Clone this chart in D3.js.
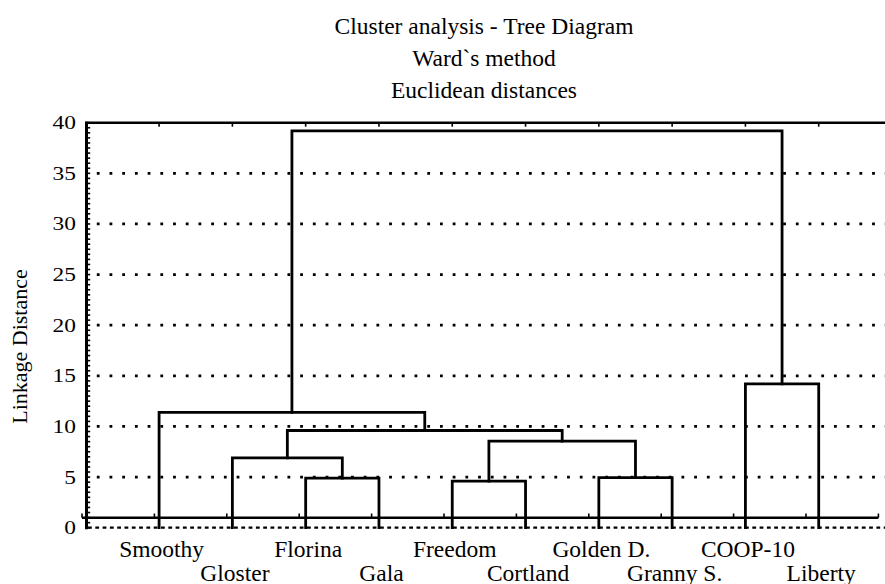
<!DOCTYPE html>
<html>
<head>
<meta charset="utf-8">
<script src="https://cdn.jsdelivr.net/npm/d3@7"></script>
<style>
  body { margin: 0; background: #fff; }
  svg { display: block; }
</style>
</head>
<body>
<svg id="chart" width="885" height="584"></svg>
<script>
// leaves in plotted order
const leaves = ["Smoothy", "Gloster", "Florina", "Gala", "Freedom", "Cortland", "Golden D.", "Granny S.", "COOP-10", "Liberty"];
// joins: ids < 10 are leaves, id 10 + k is the k-th join
const joinLeft = [4, 2, 6, 1, 10, 13, 0, 8, 16];
const joinRight = [5, 3, 7, 11, 12, 14, 15, 9, 17];
const joinHeight = [4.6, 4.9, 4.95, 6.9, 8.55, 9.6, 11.4, 14.2, 39.2];
const yTicks = [0, 5, 10, 15, 20, 25, 30, 35, 40];
const titleLines = ["Cluster analysis - Tree Diagram", "Ward`s method", "Euclidean distances"];

const serif = "'Liberation Serif', 'Times New Roman', Times, serif";

const svg = d3.select("#chart")
    .style("font-family", serif);

const x = d3.scaleLinear().domain([0, 11]).range([85.8, 892]);
// the bottom frame line sits a little off the leaf positions
const xb = d3.scaleLinear().domain([0, 11]).range([82, 878.4]);
const y = d3.scaleLinear().domain([0, 40]).range([527.7, 122.7]);

// titles
svg.selectAll("text.title")
    .data(titleLines)
    .join("text")
    .attr("class", "title")
    .attr("x", 484)
    .attr("y", (d, i) => 33.5 + i * 32)
    .attr("text-anchor", "middle")
    .style("font-size", "23.5px")
    .text(d => d);

// dotted grid
svg.selectAll("line.grid")
    .data(yTicks.filter(d => d > 0 && d < 40))
    .join("line")
    .attr("class", "grid")
    .attr("x1", 96.8).attr("x2", 885)
    .attr("y1", d => y(d)).attr("y2", d => y(d))
    .attr("stroke", "#000")
    .attr("stroke-width", 2.8)
    .attr("stroke-dasharray", "2.8,9.91");

// zero line, dashed
svg.append("line")
    .attr("x1", 88).attr("x2", 885)
    .attr("y1", y(0)).attr("y2", y(0))
    .attr("stroke", "#000")
    .attr("stroke-width", 2.2)
    .attr("stroke-dasharray", "3.8,3.5");

// top frame
svg.append("line")
    .attr("x1", 85).attr("x2", 885)
    .attr("y1", y(40)).attr("y2", y(40))
    .attr("stroke", "#000").attr("stroke-width", 2.6);

svg.selectAll("line.ttick")
    .data(d3.range(1, 11))
    .join("line")
    .attr("class", "ttick")
    .attr("x1", d => x(d)).attr("x2", d => x(d))
    .attr("y1", y(40)).attr("y2", y(40) + 4)
    .attr("stroke", "#000").attr("stroke-width", 1.6);

// bottom frame line
svg.append("line")
    .attr("x1", xb(0)).attr("x2", xb(11))
    .attr("y1", 517.7).attr("y2", 517.7)
    .attr("stroke", "#000").attr("stroke-width", 2.4);

svg.selectAll("line.btick")
    .data(d3.range(0, 12))
    .join("line")
    .attr("class", "btick")
    .attr("x1", d => xb(d)).attr("x2", d => xb(d))
    .attr("y1", 517.7).attr("y2", 513.5)
    .attr("stroke", "#000").attr("stroke-width", 1.6);

// left axis
svg.append("line")
    .attr("x1", 86.5).attr("x2", 86.5)
    .attr("y1", y(40) - 1).attr("y2", y(0) + 1.5)
    .attr("stroke", "#000").attr("stroke-width", 3);

svg.selectAll("line.ltick")
    .data(d3.range(0, 80.5).map(d => d / 2))
    .join("line")
    .attr("class", "ltick")
    .attr("x1", 86.5).attr("x2", 90.2)
    .attr("y1", d => y(d)).attr("y2", d => y(d))
    .attr("stroke", "#000").attr("stroke-width", 1.6);

svg.selectAll("text.ylab")
    .data(yTicks)
    .join("text")
    .attr("class", "ylab")
    .attr("text-anchor", "end")
    .attr("transform", d => `translate(76,${y(d) + 6.5}) scale(1.3,1)`)
    .style("font-size", "18px")
    .text(d => d);

svg.append("text")
    .attr("transform", "translate(26.7,346.5) rotate(-90)")
    .attr("text-anchor", "middle")
    .style("font-size", "22px")
    .text("Linkage Distance");

// dendrogram
const nodeX = leaves.map((d, i) => x(i + 1));
const nodeH = leaves.map(() => 0);
const links = [];
joinHeight.forEach((h, k) => {
    const a = joinLeft[k], b = joinRight[k];
    links.push({ xa: nodeX[a], ha: nodeH[a], xb: nodeX[b], hb: nodeH[b], h: h });
    nodeX.push((nodeX[a] + nodeX[b]) / 2);
    nodeH.push(h);
});

svg.selectAll("path.link")
    .data(links)
    .join("path")
    .attr("class", "link")
    .attr("d", d => {
        const p = d3.path();
        p.moveTo(d.xa, y(d.ha));
        p.lineTo(d.xa, y(d.h));
        p.lineTo(d.xb, y(d.h));
        p.lineTo(d.xb, y(d.hb));
        return p.toString();
    })
    .attr("fill", "none")
    .attr("stroke", "#000")
    .attr("stroke-width", 2.8)
    .attr("stroke-linejoin", "miter")
    .attr("stroke-linecap", "square");

// leaf labels, staggered in two rows
svg.selectAll("text.leaf")
    .data(leaves)
    .join("text")
    .attr("class", "leaf")
    .attr("x", (d, i) => x(i + 1) + 2.5)
    .attr("y", (d, i) => i % 2 === 0 ? 557 : 580.5)
    .attr("text-anchor", "middle")
    .style("font-size", "23.5px")
    .text(d => d);
</script>
</body>
</html>
